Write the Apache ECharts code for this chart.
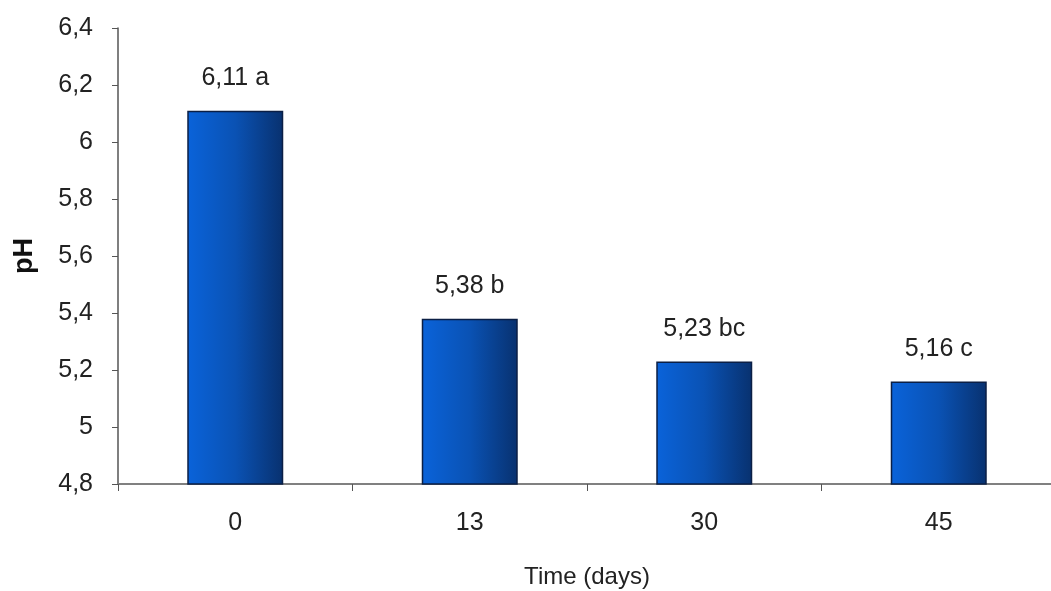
<!DOCTYPE html>
<html><head><meta charset="utf-8">
<script src="https://cdn.jsdelivr.net/npm/echarts@6/dist/echarts.min.js"></script>
<style>html,body{margin:0;padding:0;background:#fff}#c{width:1051px;height:591px}</style>
</head><body><div id="c"></div>
<script>
const categories = ['0', '13', '30', '45'];
const phValues = [6.11, 5.38, 5.23, 5.16];
const letters = ['a', 'b', 'bc', 'c'];
const yTicks = { min: 4.8, max: 6.4, interval: 0.2 };

const chart = echarts.init(document.getElementById('c'));
const comma = v => String(+v.toFixed(2)).replace('.', ',');
const FONT = 'Liberation Sans';
chart.setOption({
  animation: false,
  grid: { left: 118, right: -5, top: 28, bottom: 107, outerBoundsMode: 'none', containLabel: false },
  xAxis: {
    type: 'category', data: categories,
    name: 'Time (days)', nameLocation: 'middle', nameGap: 81,
    nameTextStyle: { fontFamily: FONT, fontSize: 24, color: '#222' },
    axisLine: { lineStyle: { color: '#808080', width: 2 } },
    axisTick: { show: true, length: 7, lineStyle: { color: '#555' } },
    axisLabel: { fontFamily: FONT, fontSize: 25, color: '#222', margin: 27 }
  },
  yAxis: {
    type: 'value', min: yTicks.min, max: yTicks.max, interval: yTicks.interval,
    name: 'pH', nameLocation: 'middle', nameGap: 80, nameRotate: 90,
    nameTextStyle: { fontFamily: FONT, fontSize: 27, fontWeight: 'bold', color: '#111' },
    axisLine: { show: true, lineStyle: { color: '#555', width: 1.5 } },
    axisTick: { show: true, length: 6, lineStyle: { color: '#555' } },
    splitLine: { show: false },
    axisLabel: { fontFamily: FONT, fontSize: 25, color: '#222', margin: 25,
      formatter: v => comma(v) }
  },
  series: [{
    type: 'bar', data: phValues, barWidth: 96,
    itemStyle: {
      borderColor: '#0b1f45', borderWidth: 1.5,
      color: new echarts.graphic.LinearGradient(0, 0, 1, 0, [
        { offset: 0, color: '#0a63da' },
        { offset: 0.5, color: '#0a52b4' },
        { offset: 1, color: '#08316f' }
      ])
    },
    label: {
      show: true, position: 'top', distance: 20,
      fontFamily: FONT, fontSize: 25, color: '#222',
      formatter: p => comma(p.value) + ' ' + letters[p.dataIndex]
    }
  }]
});
</script></body></html>
